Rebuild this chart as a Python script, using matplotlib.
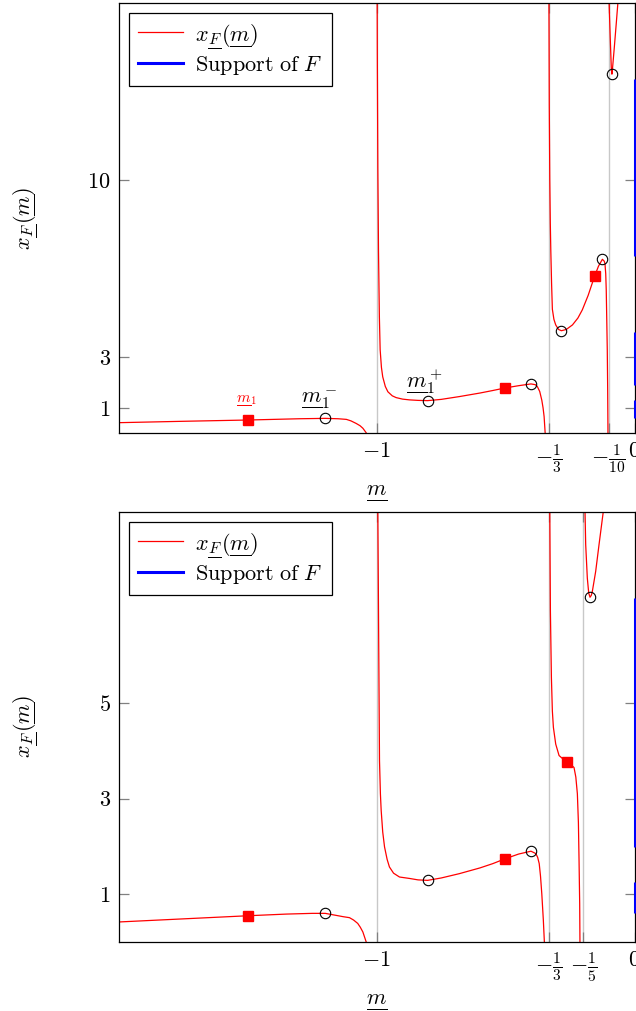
import matplotlib
matplotlib.use("Agg")
import matplotlib.pyplot as plt
from matplotlib.lines import Line2D
from matplotlib.mathtext import MathTextParser
from matplotlib.font_manager import FontProperties

plt.rcParams['mathtext.fontset'] = 'cm'
plt.rcParams['font.family'] = 'serif'
plt.rcParams['font.serif'] = ['cmr10', 'DejaVu Serif']
plt.rcParams['axes.formatter.use_mathtext'] = True

# ---------------- top panel data (poles at -1, -1/3, -1/10) ----------------
top_b1_m = [-2.0, -1.75, -1.5, -1.3, -1.2, -1.15, -1.118, -1.10, -1.08, -1.065, -1.054, -1.041, -1.03]
top_b1_x = [0.42, 0.475, 0.525, 0.575, 0.59, 0.575, 0.55, 0.49, 0.39, 0.30, 0.20, 0.02, -0.6]
top_b2_m = [-0.9988, -0.998, -0.996, -0.9934, -0.990, -0.987, -0.982, -0.977, -0.967, -0.957, -0.94,
            -0.925, -0.90, -0.873, -0.84, -0.803, -0.75, -0.68, -0.60, -0.55, -0.503, -0.45, -0.402,
            -0.385, -0.377, -0.368, -0.360, -0.355, -0.351, -0.347, -0.344]
top_b2_x = [18, 15, 10.5, 7.2, 4.6, 3.3, 2.6, 2.23, 1.85, 1.64, 1.48, 1.41, 1.35, 1.32, 1.30, 1.29,
            1.34, 1.45, 1.59, 1.69, 1.79, 1.88, 1.95, 1.92, 1.84, 1.65, 1.31, 1.0, 0.66, 0.02, -0.6]
top_b3_m = [-0.3326, -0.331, -0.329, -0.327, -0.325, -0.322, -0.319, -0.313, -0.306, -0.295, -0.284,
            -0.265, -0.241, -0.22, -0.203, -0.18, -0.155, -0.14, -0.125, -0.118, -0.115, -0.112,
            -0.110, -0.108, -0.106, -0.1045, -0.1033, -0.1028]
top_b3_x = [18, 13, 10, 8.3, 7.2, 5.9, 4.9, 4.5, 4.28, 4.1, 4.05, 4.1, 4.28, 4.55, 4.87, 5.45, 6.21,
            6.6, 6.87, 6.8, 6.71, 6.3, 5.66, 4.5, 3.29, 1.8, 0.02, -0.6]
top_b4_m = [-0.0996, -0.0989, -0.0948, -0.0903, -0.088, -0.0857, -0.079, -0.071, -0.0648, -0.062]
top_b4_x = [18.5, 17.0, 15.7, 14.4, 14.18, 14.4, 15.2, 16.2, 17.0, 17.4]
top_circ_m = [-1.201, -0.803, -0.402, -0.284, -0.125, -0.088]
top_circ_x = [0.59, 1.29, 1.95, 4.05, 6.87, 14.18]
top_sq_m = [-1.501, -0.503, -0.1525]
top_sq_x = [0.525, 1.80, 6.21]
top_support = [(0.59, 1.31), (1.91, 4.01), (7.0, 14.0)]
top_poles = [-1.0, -1 / 3, -0.1]
top_xticklabels = [r'$-1$', r'$-\frac{1}{3}$', r'$-\frac{1}{10}$', r'$0$']
top_yticks = [1, 3, 10]

# ---------------- bottom panel data (poles at -1, -1/3, -1/5) ----------------
bot_b1_m = [-2.0, -1.75, -1.5, -1.35, -1.25, -1.2, -1.17, -1.13, -1.106, -1.09, -1.074, -1.064,
            -1.054, -1.041, -1.035]
bot_b1_x = [0.42, 0.485, 0.55, 0.585, 0.60, 0.60, 0.57, 0.53, 0.51, 0.46, 0.39, 0.31, 0.21, 0.0, -0.3]
bot_b2_m = [-0.9975, -0.996, -0.9934, -0.9908, -0.9895, -0.986, -0.983, -0.977, -0.970, -0.960,
            -0.951, -0.935, -0.912, -0.873, -0.84, -0.803, -0.75, -0.68, -0.60, -0.55, -0.503,
            -0.45, -0.402, -0.383, -0.376, -0.370, -0.365, -0.360, -0.354, -0.350, -0.348]
bot_b2_x = [10, 9.0, 6.92, 4.83, 3.79, 3.1, 2.75, 2.3, 1.99, 1.73, 1.57, 1.44, 1.36, 1.33, 1.30,
            1.29, 1.34, 1.43, 1.55, 1.64, 1.74, 1.84, 1.90, 1.85, 1.77, 1.64, 1.38, 1.01, 0.46, 0.0, -0.3]
bot_b3_m = [-0.3315, -0.329, -0.3266, -0.3227, -0.319, -0.315, -0.306, -0.293, -0.278, -0.262,
            -0.245, -0.235, -0.228, -0.222, -0.218, -0.2155, -0.213, -0.212, -0.2115]
bot_b3_x = [10, 9.0, 6.92, 5.53, 4.83, 4.49, 4.14, 3.90, 3.83, 3.76, 3.70, 3.65, 3.45, 3.10, 2.5,
            1.71, 0.8, 0.0, -0.3]
bot_b4_m = [-0.1935, -0.1923, -0.1897, -0.1834, -0.178, -0.173, -0.168, -0.164, -0.151, -0.138,
            -0.1215, -0.118]
bot_b4_x = [9.3, 9.0, 8.31, 7.61, 7.3, 7.21, 7.25, 7.33, 7.75, 8.31, 9.0, 9.15]
bot_circ_m = [-1.2, -0.803, -0.402, -0.172]
bot_circ_x = [0.60, 1.29, 1.90, 7.21]
bot_sq_m = [-1.5, -0.503, -0.262]
bot_sq_x = [0.55, 1.74, 3.77]
bot_support = [(0.60, 1.26), (1.99, 7.2)]
bot_poles = [-1.0, -1 / 3, -0.2]
bot_xticklabels = [r'$-1$', r'$-\frac{1}{3}$', r'$-\frac{1}{5}$', r'$0$']
bot_yticks = [1, 3, 5]

FS = 16

_parser = MathTextParser('agg')


def _ok(s):
    try:
        _parser.parse(s, dpi=100, prop=FontProperties(size=FS))
        return True
    except Exception:
        return False


def ul(sym, w):
    """underlined symbol in mathtext (no \\underline in mathtext)."""
    cand = r'\underset{\overline{\hspace{%.2f}}}{%s}' % (w, sym)
    if _ok('$' + cand + '$'):
        return cand
    return sym


UM = ul('m', 1.45)
UF = ul('F', 1.25)
XLAB = r'$%s$' % UM
YLAB = r'$x_{%s}(%s)$' % (UF, UM)

fig = plt.figure(figsize=(6.36, 10.11), dpi=100)
ax1 = fig.add_axes([0.1871, 0.5714, 0.8107, 0.4259])
ax2 = fig.add_axes([0.1871, 0.0682, 0.8107, 0.4257])


def draw(ax, branches, cm, cx, sm, sx, support, poles, xtl, yticks, ylim):
    for p in poles:
        ax.axvline(p, color='#c8c8c8', lw=1.0, zorder=0)
    for bm, bx in branches:
        ax.plot(bm, bx, color='red', lw=0.9, zorder=2)
    ax.plot(sm, sx, 's', color='red', ms=7.5, zorder=4)
    ax.plot(cm, cx, 'o', mfc='none', mec='black', ms=7.5, mew=0.8, zorder=5)
    for lo, hi in support:
        ax.plot([0, 0], [lo, hi], color='blue', lw=2.2, solid_capstyle='butt',
                clip_on=False, zorder=6)
    ax.set_xlim(-2, 0)
    ax.set_ylim(*ylim)
    ax.set_xticks(poles + [0])
    ax.set_xticklabels(xtl)
    ax.set_yticks(yticks)
    ax.set_yticklabels([r'$%d$' % v for v in yticks])
    ax.tick_params(direction='in', length=7, width=0.9, color='#808080', top=True,
                   right=True, labelsize=FS, pad=6)
    for s in ax.spines.values():
        s.set_linewidth(0.9)
        s.set_color('black')
    ax.set_xlabel(XLAB, fontsize=FS)
    ax.set_ylabel(YLAB, fontsize=FS)
    ax.yaxis.set_label_coords(-0.155, 0.5)
    ax.xaxis.set_label_coords(0.5, -0.115)
    handles = [Line2D([], [], color='red', lw=0.9), Line2D([], [], color='blue', lw=2.2)]
    leg = ax.legend(handles, [YLAB, r'$\mathrm{Support\ of}\ F$'],
                    loc='upper left', fontsize=FS, fancybox=False, framealpha=1,
                    edgecolor='black', borderaxespad=0.45, handlelength=2.0,
                    handletextpad=0.55, labelspacing=0.18, borderpad=0.42)
    leg.get_frame().set_linewidth(0.9)


draw(ax1, [(top_b1_m, top_b1_x), (top_b2_m, top_b2_x), (top_b3_m, top_b3_x), (top_b4_m, top_b4_x)],
     top_circ_m, top_circ_x, top_sq_m, top_sq_x, top_support, top_poles, top_xticklabels,
     top_yticks, (0, 17))
draw(ax2, [(bot_b1_m, bot_b1_x), (bot_b2_m, bot_b2_x), (bot_b3_m, bot_b3_x), (bot_b4_m, bot_b4_x)],
     bot_circ_m, bot_circ_x, bot_sq_m, bot_sq_x, bot_support, bot_poles, bot_xticklabels,
     bot_yticks, (0, 9))

ax1.text(-1.505, 1.31, r'$%s_1$' % UM, color='red', fontsize=11, ha='center', va='center')
ax1.text(-1.222, 1.39, r'$%s_1^-$' % UM, color='black', fontsize=FS, ha='center', va='center')
ax1.text(-0.815, 2.04, r'$%s_1^+$' % UM, color='black', fontsize=FS, ha='center', va='center')

fig.savefig('out.png', dpi=100)
